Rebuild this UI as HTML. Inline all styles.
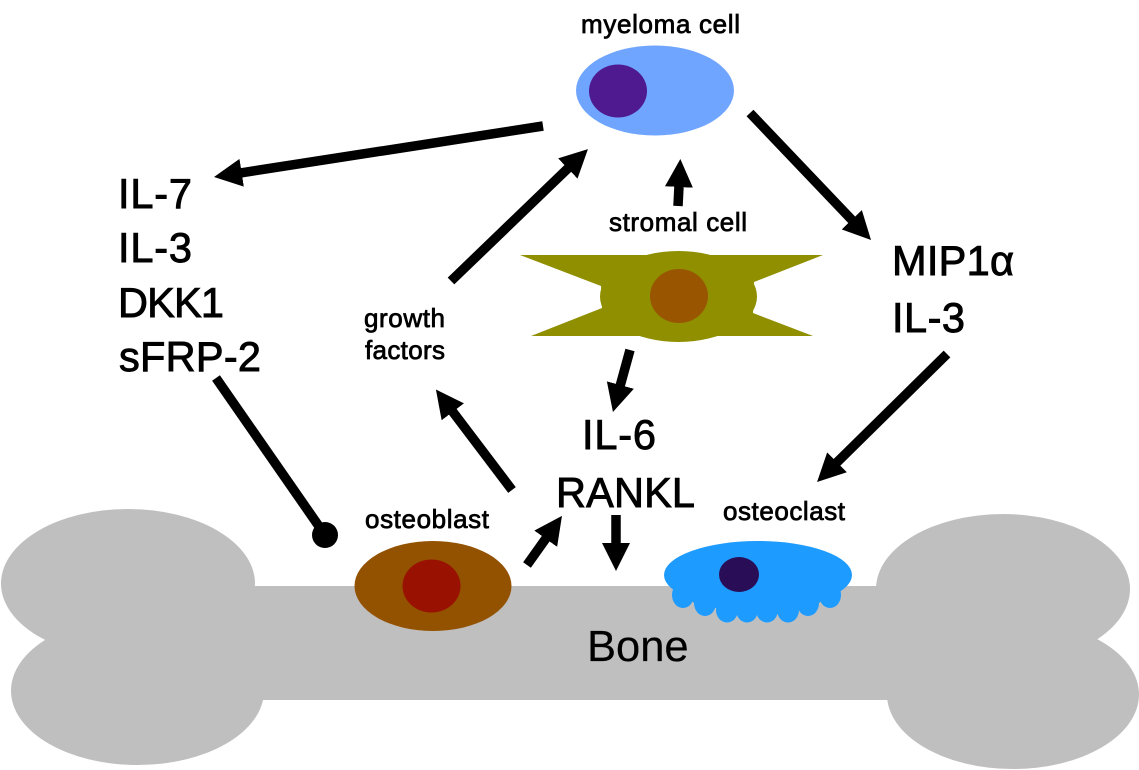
<!DOCTYPE html>
<html>
<head>
<meta charset="utf-8">
<style>
html,body{margin:0;padding:0;background:#fff;}
svg{display:block;}
text{font-family:"Liberation Sans",sans-serif;fill:#000;}
.big{font-size:41.5px;stroke:#000;stroke-width:.9px;}
.sm{font-size:26px;stroke:#000;stroke-width:.75px;}
.ar{stroke:#000;stroke-width:9.5;fill:none;}
</style>
</head>
<body>
<svg width="1139" height="770" viewBox="0 0 1139 770" xmlns="http://www.w3.org/2000/svg">
<defs>
<marker id="h" markerUnits="userSpaceOnUse" markerWidth="30" markerHeight="30" refX="1" refY="14" orient="auto">
<path d="M0 0 L28 14 L0 28 Z" fill="#000"/>
</marker>
</defs>

<!-- bone -->
<g fill="#bfbfbf">
<rect x="200" y="586" width="740" height="114"/>
<rect x="120" y="620" width="900" height="50"/>
<ellipse cx="128" cy="583.500" rx="127" ry="74.500"/>
<ellipse cx="137.500" cy="690.700" rx="126.500" ry="74.300"/>
<ellipse cx="1003" cy="589" rx="127" ry="75"/>
<ellipse cx="1013" cy="694.500" rx="126" ry="74.500"/>
</g>

<!-- myeloma -->
<ellipse cx="655" cy="90.500" rx="79" ry="45" fill="#6fa5ff"/>
<ellipse cx="618" cy="91" rx="29" ry="26.500" fill="#4f1a8f"/>

<!-- stromal -->
<polygon points="520,255 823,255 754,282 753,313 813,336 531,336 602,308 601,286" fill="#8f8f00"/>
<ellipse cx="678.500" cy="296.500" rx="78.500" ry="45.500" fill="#8f8f00"/>
<ellipse cx="679" cy="296" rx="29" ry="27" fill="#995500"/>

<!-- osteoblast -->
<ellipse cx="433" cy="586" rx="78.500" ry="45" fill="#935200"/>
<ellipse cx="431.500" cy="586" rx="29" ry="26.500" fill="#991100"/>

<!-- osteoclast -->
<g fill="#1e9bff">
<ellipse cx="758" cy="575" rx="94" ry="34"/>
<polygon points="672,585 694,603 716,608 737,610 757,610 778,610 798,608 819,603 842,585"/>
<ellipse cx="683" cy="595" rx="11" ry="13"/>
<ellipse cx="705" cy="603" rx="11" ry="13"/>
<ellipse cx="727" cy="610" rx="11" ry="12.500"/>
<ellipse cx="747" cy="610" rx="11" ry="12.500"/>
<ellipse cx="767" cy="610" rx="11" ry="12.500"/>
<ellipse cx="788" cy="610" rx="11" ry="12.500"/>
<ellipse cx="808" cy="603" rx="11" ry="13"/>
<ellipse cx="830" cy="595" rx="11" ry="13"/>
</g>
<ellipse cx="739" cy="574.500" rx="20" ry="17.500" fill="#2a0d57"/>

<!-- arrows -->
<g class="ar">
<line x1="543" y1="126" x2="240.700" y2="172.900" marker-end="url(#h)"/>
<line x1="750" y1="113" x2="852.400" y2="220.500" marker-end="url(#h)"/>
<line x1="451" y1="281" x2="568.500" y2="167.800" marker-end="url(#h)"/>
<line x1="678" y1="206" x2="679" y2="186" marker-end="url(#h)"/>
<line x1="630" y1="350" x2="620.100" y2="386" marker-end="url(#h)"/>
<line x1="512" y1="490" x2="452.200" y2="411" marker-end="url(#h)"/>
<line x1="527" y1="565" x2="546.300" y2="537.900" marker-end="url(#h)"/>
<line x1="616" y1="515" x2="616" y2="544" marker-end="url(#h)"/>
<line x1="947" y1="354" x2="836.300" y2="463" marker-end="url(#h)"/>
<line x1="216" y1="378" x2="325" y2="535"/>
</g>
<circle cx="325" cy="535" r="13" fill="#000"/>

<!-- large labels -->
<text class="big" x="118" y="208" textLength="74" lengthAdjust="spacing">IL-7</text>
<text class="big" x="118" y="262" textLength="74" lengthAdjust="spacing">IL-3</text>
<text class="big" x="118" y="317" textLength="106" lengthAdjust="spacing">DKK1</text>
<text class="big" x="119" y="371" textLength="142" lengthAdjust="spacing">sFRP-2</text>
<text class="big" x="892" y="275" textLength="122" lengthAdjust="spacing">MIP1α</text>
<text class="big" x="892" y="332" textLength="73" lengthAdjust="spacing">IL-3</text>
<text class="big" x="582" y="449" textLength="74" lengthAdjust="spacing">IL-6</text>
<text class="big" x="556" y="507" textLength="139" lengthAdjust="spacing">RANKL</text>
<text x="587" y="661" font-size="43.500" style="stroke:#000;stroke-width:.2px">Bone</text>

<!-- small labels -->
<text class="sm" x="581" y="33" textLength="159" lengthAdjust="spacing">myeloma cell</text>
<text class="sm" x="609" y="231" textLength="138" lengthAdjust="spacing">stromal cell</text>
<text class="sm" x="364" y="327" textLength="81" lengthAdjust="spacing">growth</text>
<text class="sm" x="365" y="359" textLength="80" lengthAdjust="spacing">factors</text>
<text class="sm" x="365" y="528" textLength="124" lengthAdjust="spacing">osteoblast</text>
<text class="sm" x="723" y="520" textLength="122" lengthAdjust="spacing">osteoclast</text>
</svg>
</body>
</html>
